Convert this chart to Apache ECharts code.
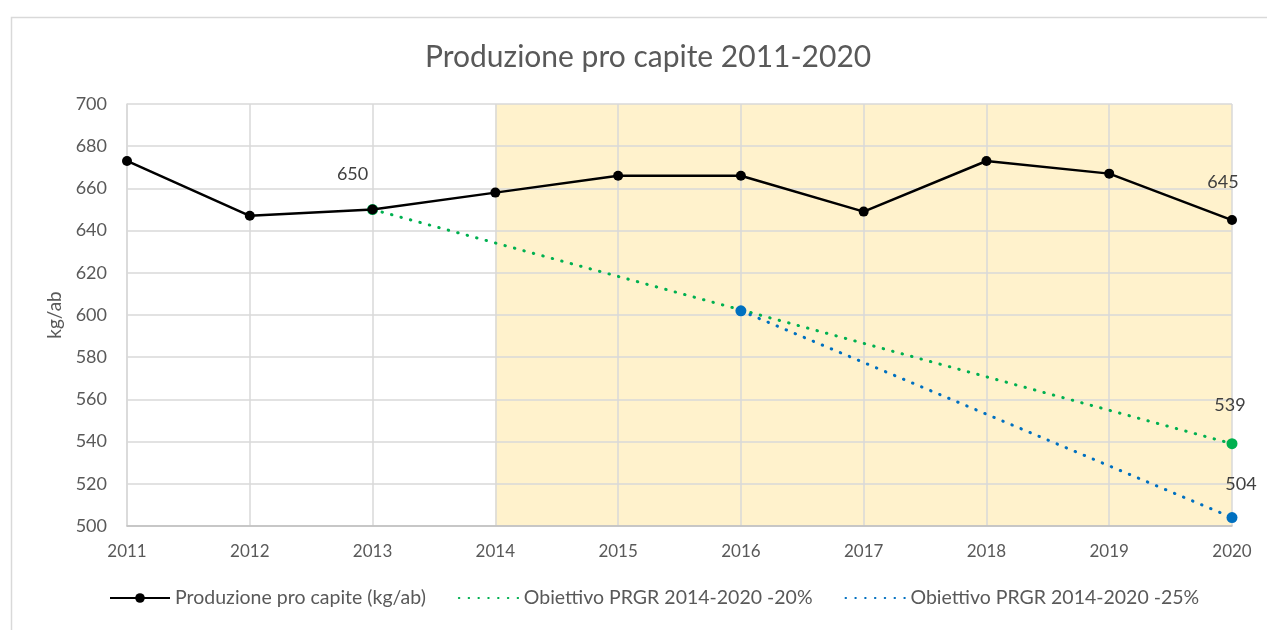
<!DOCTYPE html>
<html>
<head>
<meta charset="utf-8">
<title>Produzione pro capite 2011-2020</title>
<script src="https://cdn.jsdelivr.net/npm/echarts@6/dist/echarts.min.js"></script>
<style>
  html, body { margin: 0; padding: 0; background: #fff; }
  #chart { width: 1267px; height: 630px; }
</style>
</head>
<body>
<div id="chart"></div>
<script>
  // ---- dati ----
  var years = ['2011', '2012', '2013', '2014', '2015', '2016', '2017', '2018', '2019', '2020'];
  var produzione = [673, 647, 650, 658, 666, 666, 649, 673, 667, 645];
  var obiettivo20 = [null, null, 650, null, null, null, null, null, null, 539];
  var obiettivo25 = [null, null, null, null, null, 602, null, null, null, 504];
  var labeledProd = ['2013', '2020'];
  var labeled20 = ['2020'];
  var labeled25 = ['2020'];
  var yTicks = [500, 700, 20];
  var shadedRange = ['2014', '2020'];
  var seriesNames = ['Produzione pro capite (kg/ab)', 'Obiettivo PRGR 2014-2020 -20%', 'Obiettivo PRGR 2014-2020 -25%'];

  var FONT = 'Lato, "Open Sans", sans-serif';
  var TXT = '#595959';

  // spostamento manuale delle etichette (come nel foglio originale)
  var labelOffsets = {
    'prod-2013': [-20, -16],
    'prod-2020': [-9, -19],
    'o20-2020': [-2, -19],
    'o25-2020': [9, -14]
  };

  // valori -> data item con etichetta solo dove serve
  function withLabels(key, values, labeled) {
    return values.map(function (v, i) {
      if (v == null) return null;
      var show = labeled.indexOf(years[i]) >= 0;
      var item = { value: v, label: { show: show } };
      if (show) item.label.offset = labelOffsets[key + '-' + years[i]] || [0, 0];
      return item;
    });
  }

  var labelStyle = {
    position: 'top',
    color: '#404040', fontSize: 18, fontFamily: FONT
  };

  var chart = echarts.init(document.getElementById('chart'));

  chart.setOption({
    backgroundColor: '#fff',
    animation: false,
    graphic: [{
      type: 'rect', left: 9, top: 15, z: -10,
      shape: { width: 1300, height: 700 },
      style: { fill: 'none', stroke: '#d9d9d9', lineWidth: 1.5 }
    }],
    title: {
      text: 'Produzione pro capite 2011-2020',
      left: 420, top: 37,
      textStyle: { color: TXT, fontSize: 30, fontWeight: 'normal', fontFamily: FONT }
    },
    grid: { left: 127, right: 35, top: 104, bottom: 104 },
    legend: {
      bottom: 17, left: 104,
      itemWidth: 60, itemHeight: 12, itemGap: 32,
      textStyle: { color: TXT, fontSize: 19.5, fontFamily: FONT },
      data: [
        { name: seriesNames[0] },
        { name: seriesNames[1], itemStyle: { opacity: 0 } },
        { name: seriesNames[2], itemStyle: { opacity: 0 } }
      ]
    },
    xAxis: {
      type: 'category', data: years, boundaryGap: false, z: 1.5,
      axisLine: { lineStyle: { color: '#bfbfbf', width: 1.5 } },
      axisTick: { show: false },
      axisLabel: { color: TXT, fontSize: 17, fontFamily: FONT, margin: 17 },
      splitLine: { show: true, lineStyle: { color: '#d9d9d9', width: 1.5 } }
    },
    yAxis: {
      type: 'value', min: yTicks[0], max: yTicks[1], interval: yTicks[2], z: 1.5,
      name: 'kg/ab', nameLocation: 'middle', nameGap: 63, nameRotate: 90,
      nameTextStyle: { color: TXT, fontSize: 19, fontFamily: FONT },
      axisLine: { show: true, lineStyle: { color: '#d9d9d9', width: 1.5 } },
      axisTick: { show: false },
      axisLabel: { color: TXT, fontSize: 18, fontFamily: FONT, margin: 20 },
      splitLine: { lineStyle: { color: '#d9d9d9', width: 1.5 } }
    },
    series: [
      {
        name: seriesNames[0], type: 'line',
        data: withLabels('prod', produzione, labeledProd),
        symbol: 'circle', symbolSize: 10,
        lineStyle: { color: '#000', width: 2.5 },
        itemStyle: { color: '#000' },
        label: labelStyle,
        markArea: {
          silent: true,
          itemStyle: { color: '#FFF2CC' },
          data: [[{ xAxis: shadedRange[0] }, { xAxis: shadedRange[1] }]]
        },
        z: 4
      },
      {
        name: seriesNames[1], type: 'line',
        data: withLabels('o20', obiettivo20, labeled20),
        connectNulls: true,
        symbol: 'circle', symbolSize: 11,
        lineStyle: { color: '#00B050', width: 3, type: [0.5, 9.3], cap: 'round' },
        itemStyle: { color: '#00B050' },
        label: labelStyle,
        z: 3
      },
      {
        name: seriesNames[2], type: 'line',
        data: withLabels('o25', obiettivo25, labeled25),
        connectNulls: true,
        symbol: 'circle', symbolSize: 11,
        lineStyle: { color: '#0070C0', width: 3, type: [0.5, 9.3], cap: 'round' },
        itemStyle: { color: '#0070C0' },
        label: labelStyle,
        z: 3
      }
    ]
  });

  window.addEventListener('resize', function () { chart.resize(); });
</script>
</body>
</html>
